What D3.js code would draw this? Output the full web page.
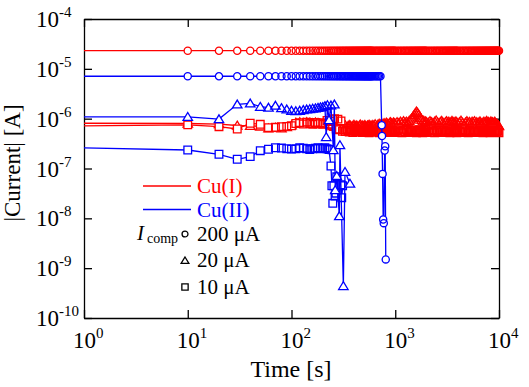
<!DOCTYPE html>
<html>
<head>
<meta charset="utf-8">
<script src="https://cdn.jsdelivr.net/npm/d3@7"></script>
<style>
  html, body { margin: 0; padding: 0; background: #fff; }
  svg { display: block; }
</style>
</head>
<body>
<svg id="chart" width="529" height="387" font-family="'Liberation Serif', 'Times New Roman', 'DejaVu Serif', serif"></svg>
<script>
// ---------------- DATA ----------------
const xTicks = [1, 10, 100, 1000, 10000];
const xTickExp = ["0", "1", "2", "3", "4"];
const yTicks = [1e-4, 1e-5, 1e-6, 1e-7, 1e-8, 1e-9, 1e-10];
const yTickExp = ["-4", "-5", "-6", "-7", "-8", "-9", "-10"];

// sampling times [s] shared by the series
const timeGrid = [
  10,20,30,40,50,60,70,80,90,100,110,120,130,140,150,160,170,180,190,200,
  210,220,230,240,250,260,270,280,290,300,
  310,320,330,340,350,360,370,380,390,400,410,420,430,440,450,
  460,470,480,490,500,510,520,530,540,550,560,570,580,590,600,
  620,640,660,680,700,720,740,760,780,800,820,840,860,880,900,920,940,960,980,1000,
  1040,1080,1120,1160,1200,1240,1280,1320,1360,1400,1440,1480,1520,1560,1600,
  1640,1680,1720,1760,1800,1840,1880,1920,1960,2000,
  2080,2160,2240,2320,2400,2480,2560,2640,2720,2800,2880,2960,3040,3120,3200,
  3280,3360,3440,3520,3600,3680,3760,3840,3920,4000,
  4150,4300,4450,4600,4750,4900,5050,5200,5350,5500,5650,5800,5950,6100,6250,6400,6550,6700,6850,7000,
  7150,7300,7450,7600,7750,7900,8050,8200,8350,8500,8650,8800,8950,9100,9250,9400,9550,9700,9850,10000
];

// currents in µA; "start" = value at t = 1 s (line only), "tail" = extra [t, µA] points
const cu1_200_start = 23.1;
const cu1_200 = [
  23.1,23.1,23.1,23.1,23.1,23.1,23.1,23.1,23.1,23.1,
  23.1,23.1,23.1,23.1,23.1,23.1,23.1,23.1,23.1,23.1,
  23.1,23.1,23.1,23.1,23.1,23.1,23.1,23.1,23.1,23.1,
  23.1,23.1,23.1,23.1,23.1,23.1,23.1,23.1,23.1,23.1,
  23.1,23.1,23.1,23.1,23.1,23.1,23.1,23.1,23.1,23.1,
  23.1,23.1,23.1,23.1,23.1,23.1,23.1,23.1,23.1,23.1,
  23.1,23.1,23.1,23.1,23.1,23.1,23.1,23.1,23.1,23.1,
  23.1,23.1,23.1,23.1,23.1,23.1,23.1,23.1,23.1,23.1,
  23.1,23.1,23.1,23.1,23.1,23.1,23.1,23.1,23.1,23.1,
  23.1,23.1,23.1,23.1,23.1,23.1,23.1,23.1,23.1,23.1,
  23.1,23.1,23.1,23.1,23.1,23.1,23.1,23.1,23.1,23.1,
  23.1,23.1,23.1,23.1,23.1,23.1,23.1,23.1,23.1,23.1,
  23.1,23.1,23.1,23.1,23.1,23.1,23.1,23.1,23.1,23.1,
  23.1,23.1,23.1,23.1,23.1,23.1,23.1,23.1,23.1,23.1,
  23.1,23.1,23.1,23.1,23.1,23.1,23.1,23.1,23.1,23.1,
  23.1,23.1,23.1,23.1,23.1,23.1,23.1,23.1,23.1,23.1,
  23.1,23.1,23.1,23.1,23.1,23.1,23.1,23.1,23.1,23.1
];

const cu1_20_start = 0.81;
const cu1_20 = [
  .80,.78,.73,.72,.70,.64,.66,.64,.68,.74,
  .84,.86,.83,.86,.84,.82,.85,.83,.80,.78,
  .82,.86,.80,.74,.71,.69,.73,.67,.71,.69,
  .72,.70,.74,.68,.71,.75,.73,.69,.72,.76,.70,.74,.72,.68,.73,
  .77,.71,.74,.70,.73,.75,.71,.69,.74,.72,.76,.70,.73,.71,.75,
  .74,.78,.72,.76,.80,.77,.75,.79,.82,.78,.84,.80,.77,.83,.86,.81,.79,.85,.82,.80,
  .86,.82,.88,.84,.90,.85,.88,.84,.91,.96,1.02,1.10,1.20,1.30,1.40,
  1.32,1.22,1.12,1.03,.95,.88,.92,.85,.89,.86,
  .84,.90,.86,.82,.88,.93,.85,.80,.87,.91,.84,.79,.86,.90,.83,
  .88,.82,.86,.91,.84,.87,.82,.89,.85,.80,
  .86,.92,.84,.79,.85,.90,.83,.87,.81,.88,.84,.90,.82,.86,.80,.85,.89,.83,.78,.84,
  .88,.80,.86,.91,.83,.87,.81,.85,.89,.82,.86,.80,.84,.88,.82,.78,.80,.76,.74,.71
];

const cu1_10_start = 0.72;
const cu1_10 = [
  .75,.69,.62,.81,.77,.66,.67,.69,.70,.72,
  .80,.83,.78,.85,.80,.77,.84,.79,.83,.77,
  .80,.92,.78,.88,.95,1.00,.62,.98,.60,.90,
  .56,.60,.55,.62,.58,.54,.60,.57,.53,.59,.56,.61,.55,.58,.54,
  .60,.57,.53,.58,.55,.59,.54,.57,.61,.55,.52,.58,.56,.60,.54,
  .57,.54,.60,.56,.52,.58,.55,.61,.56,.53,.59,.55,.60,.54,.57,.53,.58,.55,.60,.53,
  .57,.62,.56,.52,.59,.55,.61,.57,.53,.58,.55,.60,.54,.57,.52,
  .58,.55,.60,.53,.57,.52,.59,.55,.61,.54,
  .57,.53,.60,.56,.52,.58,.55,.60,.53,.57,.54,.58,.53,.56,.60,
  .54,.52,.57,.55,.61,.53,.58,.55,.52,.59,
  .56,.54,.60,.53,.57,.55,.52,.58,.54,.60,.56,.53,.57,.55,.53,.58,.54,.60,.55,.52,
  .57,.54,.59,.55,.53,.58,.56,.52,.57,.54,.60,.55,.53,.58,.54,.56,.53,.57,.53,.52
];

const cu2_200_start = 7.1;
const cu2_200 = [
  7.1,7.1,7.1,7.1,7.1,7.1,7.1,7.1,7.1,7.1,
  7.1,7.1,7.1,7.1,7.1,7.1,7.1,7.1,7.1,7.1,
  7.1,7.1,7.1,7.1,7.1,7.1,7.1,7.1,7.1,7.1,
  7.1,7.1,7.1,7.1,7.1,7.1,7.1,7.1,7.1,7.1,7.1,7.1,7.1,7.1,7.1,
  7.1,7.1,7.1,7.1,7.1,7.1,7.1,7.1,7.1,7.1,7.1,7.1,7.1,7.1,7.1,
  7.1,7.1,7.1,7.1,7.1,7.1
];
const cu2_200_tail = [[740,.74],[745,.45],[755,.078],[765,.0095],[775,.008],[790,.23],[800,.28],[810,.0015]];

const cu2_20_start = 1.09;
const cu2_20 = [
  1.09,.98,1.94,2.03,1.74,1.67,1.83,1.64,1.54,1.45,
  1.42,1.45,1.50,1.54,1.56,1.60,1.62,1.66,1.70,1.72,1.80
];
const cu2_20_tail = [[216,.43],[222,1.88],[230,.94],[240,1.85],[253,.235],[259,1.94],[264,.037],[273,.071],[289,.0111],[293,.296],[316,.00044],[328,.086],[366,.05]];

const cu2_10_start = 0.26;
const cu2_10 = [
  .235,.193,.153,.173,.228,.243,.261,.257,.250,.245,
  .250,.260,.255,.250,.240,.250,.255,.260,.250,.255,
  .260,.250,.240
];
const cu2_10_tail = [[240,.112],[245,.045],[250,.020],[256,.045],[263,.028],[268,.032],[273,.068],[300,.047],[305,.026],[311,.045]];

const legendSeries = ["Cu(I)", "Cu(II)"];
const legendComp = ["200 μA", "20 μA", "10 μA"];

// ---------------- CHART ----------------
const FONT = "'Liberation Serif', 'Times New Roman', 'DejaVu Serif', serif";
const RED = "#ff0000", BLUE = "#0000ff";
const svg = d3.select("#chart");
const x = d3.scaleLog().domain([1, 1e4]).range([84, 499]);
const y = d3.scaleLog().domain([1e-10, 1e-4]).range([318, 19]);

function build(start, vals, tail) {
  const pts = [[1, start, false]];
  vals.forEach((v, i) => pts.push([timeGrid[i], v, true]));
  (tail || []).forEach(p => pts.push([p[0], p[1], true]));
  return pts;
}

const series = [
  { pts: build(cu1_20_start, cu1_20), color: RED, shape: "tri" },
  { pts: build(cu1_10_start, cu1_10), color: RED, shape: "sq" },
  { pts: build(cu1_200_start, cu1_200), color: RED, shape: "circ" },
  { pts: build(cu2_10_start, cu2_10, cu2_10_tail), color: BLUE, shape: "sq" },
  { pts: build(cu2_20_start, cu2_20, cu2_20_tail), color: BLUE, shape: "tri" },
  { pts: build(cu2_200_start, cu2_200, cu2_200_tail), color: BLUE, shape: "circ" }
];

// axes (ticks inward on all four sides)
const axW = 1.3;
function styleAxis(g) {
  g.selectAll("path, line").attr("stroke", "#000").attr("stroke-width", axW);
  g.selectAll("text").remove();
}
svg.append("g").attr("transform", "translate(0,318)")
  .call(d3.axisBottom(x).tickValues(xTicks).tickSizeInner(-8).tickSizeOuter(0).tickFormat(""))
  .call(styleAxis);
svg.append("g").attr("transform", "translate(0,19)")
  .call(d3.axisTop(x).tickValues(xTicks).tickSizeInner(-8).tickSizeOuter(0).tickFormat(""))
  .call(styleAxis);
svg.append("g").attr("transform", "translate(84,0)")
  .call(d3.axisLeft(y).tickValues(yTicks).tickSizeInner(-8).tickSizeOuter(0).tickFormat(""))
  .call(styleAxis);
svg.append("g").attr("transform", "translate(499,0)")
  .call(d3.axisRight(y).tickValues(yTicks).tickSizeInner(-8).tickSizeOuter(0).tickFormat(""))
  .call(styleAxis);

// tick labels
xTicks.forEach((t, i) => {
  const tx = svg.append("text").attr("x", x(t) - 11).attr("y", 348).attr("font-size", 23)
    .attr("font-family", FONT).attr("fill", "#000");
  tx.append("tspan").text("10");
  tx.append("tspan").attr("dy", -10).attr("font-size", 15).text(xTickExp[i]);
});
yTicks.forEach((t, i) => {
  const ty = svg.append("text").attr("x", 36).attr("y", y(t) + 8).attr("font-size", 23)
    .attr("font-family", FONT).attr("fill", "#000");
  ty.append("tspan").text("10");
  ty.append("tspan").attr("dy", -10).attr("font-size", 15).text(yTickExp[i]);
});

// axis titles
svg.append("text").attr("x", 291).attr("y", 377).attr("text-anchor", "middle")
  .attr("font-family", FONT).attr("font-size", 24).text("Time [s]");
svg.append("text").attr("transform", "translate(20,163) rotate(-90)").attr("text-anchor", "middle")
  .attr("font-family", FONT).attr("font-size", 23).text("|Current| [A]");

// markers
function markerPath(shape, cx, cy, size) {
  if (shape === "circ") {
    const r = size * 0.8;
    return `M${cx - r},${cy}a${r},${r} 0 1,0 ${2 * r},0a${r},${r} 0 1,0 ${-2 * r},0Z`;
  } else if (shape === "sq") {
    const h = size * 0.85;
    return `M${cx - h},${cy - h}H${cx + h}V${cy + h}H${cx - h}Z`;
  }
  const w = size * 1.05, top = size * 0.95, bot = size * 0.8;
  return `M${cx},${cy - top}L${cx + w},${cy + bot}L${cx - w},${cy + bot}Z`;
}

const line = d3.line().x(d => x(d[0])).y(d => y(d[1] * 1e-6));
const plot = svg.append("g");
series.forEach(s => {
  const g = plot.append("g");
  g.append("path").attr("d", line(s.pts)).attr("fill", "none")
    .attr("stroke", s.color).attr("stroke-width", 1.3);
  const mk = s.pts.filter(p => p[2]);
  // white interiors, then all outlines on top
  g.selectAll("path.fill").data(mk).enter().append("path").attr("class", "fill")
    .attr("d", p => markerPath(s.shape, x(p[0]), y(p[1] * 1e-6), 4.5))
    .attr("fill", "#fff").attr("stroke", "none");
  g.selectAll("path.edge").data(mk).enter().append("path").attr("class", "edge")
    .attr("d", p => markerPath(s.shape, x(p[0]), y(p[1] * 1e-6), 4.5))
    .attr("fill", "none").attr("stroke", s.color).attr("stroke-width", 1.3);
});

// legend
const lg = svg.append("g").attr("font-family", FONT);
[RED, BLUE].forEach((c, i) => {
  const ly = 186 + i * 23.5;
  lg.append("line").attr("x1", 143).attr("x2", 191).attr("y1", ly).attr("y2", ly)
    .attr("stroke", c).attr("stroke-width", 1.5);
  lg.append("text").attr("x", 197).attr("y", ly + 7).attr("font-size", 21).attr("fill", c).text(legendSeries[i]);
});
const it = lg.append("text").attr("x", 137).attr("y", 240).attr("font-size", 21).attr("fill", "#000");
it.append("tspan").attr("font-style", "italic").text("I");
it.append("tspan").attr("x", 147).attr("y", 243).attr("font-size", 14).text("comp");
["circ", "tri", "sq"].forEach((sh, i) => {
  const ly = 234 + i * 26.5;
  lg.append("path").attr("d", markerPath(sh, 185, ly, 3.7))
    .attr("fill", "#fff").attr("stroke", "#000").attr("stroke-width", 1.3);
  lg.append("text").attr("x", 197).attr("y", ly + 6.5).attr("font-size", 21).attr("fill", "#000").text(legendComp[i]);
});
</script>
</body>
</html>
